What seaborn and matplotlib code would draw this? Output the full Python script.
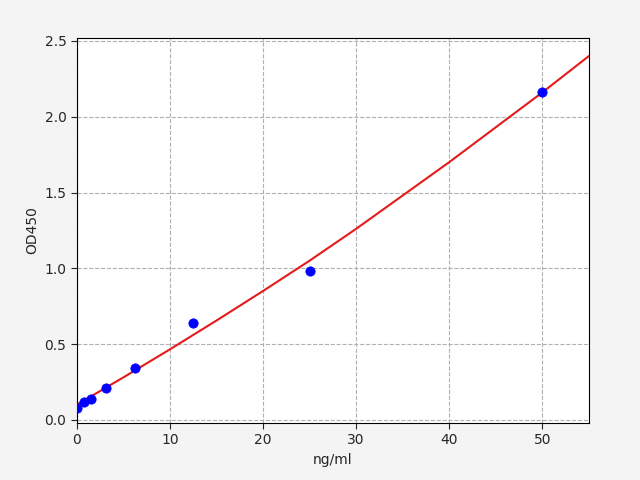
import numpy as np
import pandas as pd
import seaborn as sns
import matplotlib
matplotlib.use("Agg")
import matplotlib.pyplot as plt

# standard points
conc = [0, 0.78, 1.56, 3.125, 6.25, 12.5, 25, 50]
od = [0.08, 0.12, 0.14, 0.21, 0.34, 0.64, 0.98, 2.16]

# fitted curve
curve_x = [0, 5, 10, 15, 20, 25, 30, 35, 40, 45, 50, 55]
curve_y = [0.10, 0.28, 0.465, 0.655, 0.85, 1.05, 1.26, 1.48, 1.70, 1.93, 2.16, 2.40]

sns.set_style("white")
fig, ax = plt.subplots(figsize=(6.4, 4.8), dpi=100)
fig.patch.set_facecolor("#f4f4f4")
fig.subplots_adjust(left=0.12, right=0.92, top=0.921, bottom=0.119)

sns.lineplot(x=curve_x, y=curve_y, color="#e41a1c", ax=ax, zorder=2)
sns.scatterplot(x=conc, y=od, color="blue", s=45, edgecolor="blue", ax=ax, zorder=3)

ax.set_xlim(0, 55)
ax.set_ylim(-0.02, 2.52)
ax.set_xticks([0, 10, 20, 30, 40, 50])
ax.set_yticks([0.0, 0.5, 1.0, 1.5, 2.0, 2.5])
ax.grid(True, linestyle="--", color="#b0b0b0")
ax.tick_params(direction="out", length=4, left=True, bottom=True)
for s in ax.spines.values():
    s.set_color("black")
ax.set_xlabel("ng/ml")
ax.set_ylabel("OD450")

fig.savefig("out.png", facecolor=fig.get_facecolor())
